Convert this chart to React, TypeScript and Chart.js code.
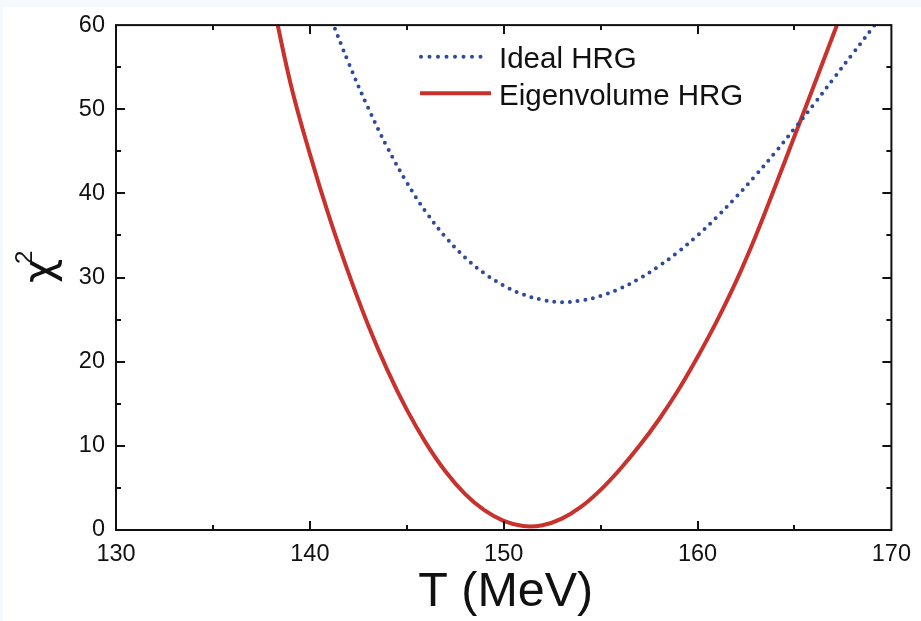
import React, { useEffect, useRef } from "react";
import { Chart, registerables } from "chart.js";

Chart.register(...registerables);

// ---- data ----
const T_IDEAL = [141, 142, 143, 144, 145, 146, 147, 148, 149, 150, 151, 152, 153, 154, 155, 156, 157, 158, 159, 160, 161, 162, 163, 164, 165, 166, 167, 168, 169, 170];
const CHI_IDEAL = [61.3, 55.5, 50.2, 45.45, 41.3, 37.75, 34.8, 32.4, 30.5, 29.05, 28.0, 27.35, 27.07, 27.27, 27.82, 28.7, 29.88, 31.35, 33.05, 35.0, 37.2, 39.6, 42.15, 44.85, 47.7, 50.6, 53.6, 56.6, 59.6, 62.8];

const T_EV = [138, 139, 140, 141, 142, 143, 144, 145, 146, 147, 148, 149, 150, 151, 152, 153, 154, 155, 156, 157, 158, 159, 160, 161, 162, 163, 164, 165, 166, 167, 168];
const CHI_EV = [63.8, 53.1, 44.7, 37.2, 30.5, 24.4, 19.0, 14.3, 10.3, 6.95, 4.3, 2.35, 1.08, 0.47, 0.57, 1.35, 2.77, 4.77, 7.22, 10.0, 13.1, 16.6, 20.55, 24.85, 29.6, 34.95, 40.8, 46.8, 52.8, 58.85, 64.9];

const X_MIN = 130, X_MAX = 170, X_STEP = 10, X_MINOR = 5;
const Y_MIN = 0, Y_MAX = 60, Y_STEP = 10, Y_MINOR = 5;

const SERIES_NAMES = ["Ideal HRG", "Eigenvolume HRG"];
const X_TITLE = "T (MeV)";
const Y_TITLE = "\u03C7";
const Y_TITLE_SUP = "2";

const BLUE = "#2e4b9b";
const RED = "#c8312c";
const INK = "#111111";
const FONT = "'Liberation Sans', Arial, Helvetica, sans-serif";
const CHI_FONT = "'DejaVu Sans', 'Noto Sans', sans-serif";

const DOT_DASH = [0, 7.8];

const framePlugin = {
  id: "framePlugin",
  beforeDraw(chart: any) {
    const ctx = chart.ctx;
    ctx.save();
    ctx.fillStyle = "#ffffff";
    ctx.fillRect(0, 0, chart.width, chart.height);
    ctx.fillStyle = "#f3f9fc";
    ctx.fillRect(0, 0, chart.width, 7);
    ctx.fillRect(0, 0, 3, chart.height);
    ctx.restore();
  },
  afterDraw(chart: any) {
    const ctx = chart.ctx;
    const { left, right, top, bottom } = chart.chartArea;
    const xs = chart.scales.x;
    const ys = chart.scales.y;
    ctx.save();
    ctx.strokeStyle = INK;
    ctx.lineWidth = 2;
    ctx.lineCap = "butt";
    // frame
    ctx.strokeRect(left, top, right - left, bottom - top);
    // ticks (inward, all sides)
    ctx.beginPath();
    for (let v = X_MIN + X_MINOR; v < X_MAX; v += X_MINOR) {
      const len = v % X_STEP === 0 ? 9 : 5;
      const px = Math.round(xs.getPixelForValue(v));
      ctx.moveTo(px, bottom);
      ctx.lineTo(px, bottom - len);
      ctx.moveTo(px, top);
      ctx.lineTo(px, top + len);
    }
    for (let v = Y_MIN + Y_MINOR; v < Y_MAX; v += Y_MINOR) {
      const len = v % Y_STEP === 0 ? 9 : 5;
      const py = Math.round(ys.getPixelForValue(v));
      ctx.moveTo(left, py);
      ctx.lineTo(left + len, py);
      ctx.moveTo(right, py);
      ctx.lineTo(right - len, py);
    }
    ctx.stroke();

    // legend
    const lx0 = 421, lx1 = 489;
    ctx.lineWidth = 4;
    ctx.lineCap = "round";
    ctx.strokeStyle = BLUE;
    ctx.setLineDash([0, 8.5]);
    ctx.beginPath();
    ctx.moveTo(lx0, 56.7);
    ctx.lineTo(lx1, 56.7);
    ctx.stroke();
    ctx.setLineDash([]);
    ctx.strokeStyle = RED;
    ctx.lineCap = "butt";
    ctx.beginPath();
    ctx.moveTo(lx0 - 1, 93.3);
    ctx.lineTo(lx1 + 2, 93.3);
    ctx.stroke();
    ctx.fillStyle = INK;
    ctx.font = `29.5px ${FONT}`;
    ctx.textAlign = "left";
    ctx.textBaseline = "alphabetic";
    ctx.fillText(SERIES_NAMES[0], 499, 67.5);
    ctx.fillText(SERIES_NAMES[1], 499, 104.5);

    // x title
    ctx.font = `48.5px ${FONT}`;
    ctx.textAlign = "center";
    ctx.fillText(X_TITLE, (left + right) / 2 + 2, 606);

    // y title (rotated)
    ctx.translate(53, 283);
    ctx.rotate(-Math.PI / 2);
    ctx.textAlign = "left";
    ctx.font = `42px ${CHI_FONT}`;
    ctx.fillText(Y_TITLE, 0, 0);
    ctx.font = `24px ${FONT}`;
    ctx.fillText(Y_TITLE_SUP, 19, -21);
    ctx.restore();
  },
};

export default function App() {
  const canvasRef = useRef<HTMLCanvasElement | null>(null);

  useEffect(() => {
    document.body.style.margin = "0";
    const canvas = canvasRef.current;
    if (!canvas) return;
    const chart = new Chart(canvas, {
      type: "line",
      data: {
        datasets: [
          {
            label: SERIES_NAMES[0],
            data: T_IDEAL.map((t, i) => ({ x: t, y: CHI_IDEAL[i] })),
            borderColor: BLUE,
            borderWidth: 4,
            borderDash: DOT_DASH,
            borderCapStyle: "round",
            pointRadius: 0,
            tension: 0.4,
            clip: 0,
          } as any,
          {
            label: SERIES_NAMES[1],
            data: T_EV.map((t, i) => ({ x: t, y: CHI_EV[i] })),
            borderColor: RED,
            borderWidth: 4,
            pointRadius: 0,
            tension: 0.4,
            clip: 0,
          } as any,
        ],
      },
      options: {
        animation: false,
        responsive: false,
        maintainAspectRatio: false,
        devicePixelRatio: 1,
        layout: { padding: { top: 24, right: 23, left: 0, bottom: 0 } },
        plugins: { legend: { display: false }, tooltip: { enabled: false } },
        scales: {
          x: {
            type: "linear",
            min: X_MIN,
            max: X_MAX,
            grid: { display: false, drawTicks: false },
            border: { display: false },
            ticks: {
              stepSize: X_STEP,
              padding: 10,
              color: INK,
              font: { family: FONT, size: 23.5 },
              maxRotation: 0,
            },
            afterFit: (s: any) => {
              s.height = 91;
            },
          },
          y: {
            type: "linear",
            min: Y_MIN,
            max: Y_MAX,
            grid: { display: false, drawTicks: false },
            border: { display: false },
            ticks: {
              stepSize: Y_STEP,
              padding: 11,
              color: INK,
              font: { family: FONT, size: 23.5 },
            },
            afterFit: (s: any) => {
              s.width = 116;
            },
          },
        },
      } as any,
      plugins: [framePlugin],
    });
    return () => chart.destroy();
  }, []);

  return (
    <div style={{ width: 921, height: 621 }}>
      <canvas ref={canvasRef} width={921} height={621} style={{ width: 921, height: 621, display: "block" }} />
    </div>
  );
}
